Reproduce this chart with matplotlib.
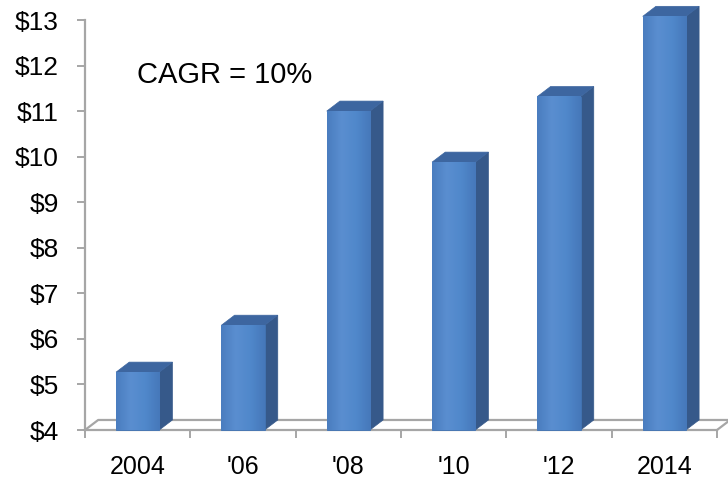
import numpy as np
import matplotlib.pyplot as plt
from matplotlib.patches import Polygon
from matplotlib.colors import LinearSegmentedColormap

years = ["2004", "'06", "'08", "'10", "'12", "2014"]
revenue = [5.27, 6.30, 11.00, 9.88, 11.32, 13.08]
y_ticks = [4, 5, 6, 7, 8, 9, 10, 11, 12, 13]
y_labels = ["$%d" % v for v in y_ticks]

plt.rcParams["font.family"] = ["Liberation Sans", "DejaVu Sans"]

fig = plt.figure(figsize=(7.28, 4.78), dpi=100)
ax = fig.add_axes([85 / 728, 48 / 478, 632 / 728, 410 / 478])
ax.set_xlim(-0.5, len(years) - 0.5)
ax.set_ylim(4, 13)

# 3d look: depth offset of the bars and floor, in data units
dx, dy = 0.125, 0.22
width = 0.41
grey = "#a6a6a6"
face_cmap = LinearSegmentedColormap.from_list(
    "face", ["#4a7dbf", "#5a8ed0", "#5088cb", "#4678ba"])
shade = np.linspace(0, 1, 64).reshape(1, -1)

# floor
n = len(years)
floor_x = [-0.5, -0.5 + dx, n - 0.5 + dx, n - 0.5]
floor_y = [4, 4 + dy, 4 + dy, 4]
ax.plot(floor_x, floor_y, color=grey, lw=1.6, clip_on=False, zorder=1)

bars = ax.bar(range(n), [v - 4 for v in revenue], bottom=4, width=width,
              color="#4a7ec0", edgecolor="#4274b3", lw=0.6, zorder=4,
              clip_on=False)

for i, (v, bar) in enumerate(zip(revenue, bars)):
    x0, x1 = i - width / 2, i + width / 2
    side = Polygon([(x1, 4), (x1 + dx, 4 + dy), (x1 + dx, v + dy), (x1, v)],
                   closed=True, fc="#36598a", ec="#36598a", lw=0.5,
                   clip_on=False, zorder=3)
    top = Polygon([(x0, v), (x0 + dx, v + dy), (x1 + dx, v + dy), (x1, v)],
                  closed=True, fc="#3d66a0", ec="#3d66a0", lw=0.5,
                  clip_on=False, zorder=3)
    ax.add_patch(side)
    ax.add_patch(top)
    # soft horizontal shading on the front face
    im = ax.imshow(shade, cmap=face_cmap, aspect="auto", extent=(x0, x1, 4, v),
                   zorder=4.5, clip_on=False, interpolation="bilinear")
    im.set_clip_path(bar)

ax.set_xlim(-0.5, n - 0.5)
ax.set_ylim(4, 13)

for s in ["top", "right"]:
    ax.spines[s].set_visible(False)
for s in ["left", "bottom"]:
    ax.spines[s].set_color(grey)
    ax.spines[s].set_linewidth(1.6)
    ax.spines[s].set_zorder(2)

ax.set_yticks(y_ticks)
ax.set_yticklabels(y_labels, fontsize=19)
ax.tick_params(axis="y", length=6, width=1.4, color=grey, pad=13)

ax.set_xticks(range(n))
ax.set_xticklabels(years, fontsize=18)
ax.set_xticks([i - 0.5 for i in range(n + 1)], minor=True)
ax.tick_params(axis="x", which="major", length=0, pad=18)
ax.tick_params(axis="x", which="minor", length=6, width=1.4, color=grey)

ax.text(0.082, 0.866, "CAGR = 10%", transform=ax.transAxes, fontsize=21,
        va="center", ha="left")

fig.savefig("out.png", dpi=100)
